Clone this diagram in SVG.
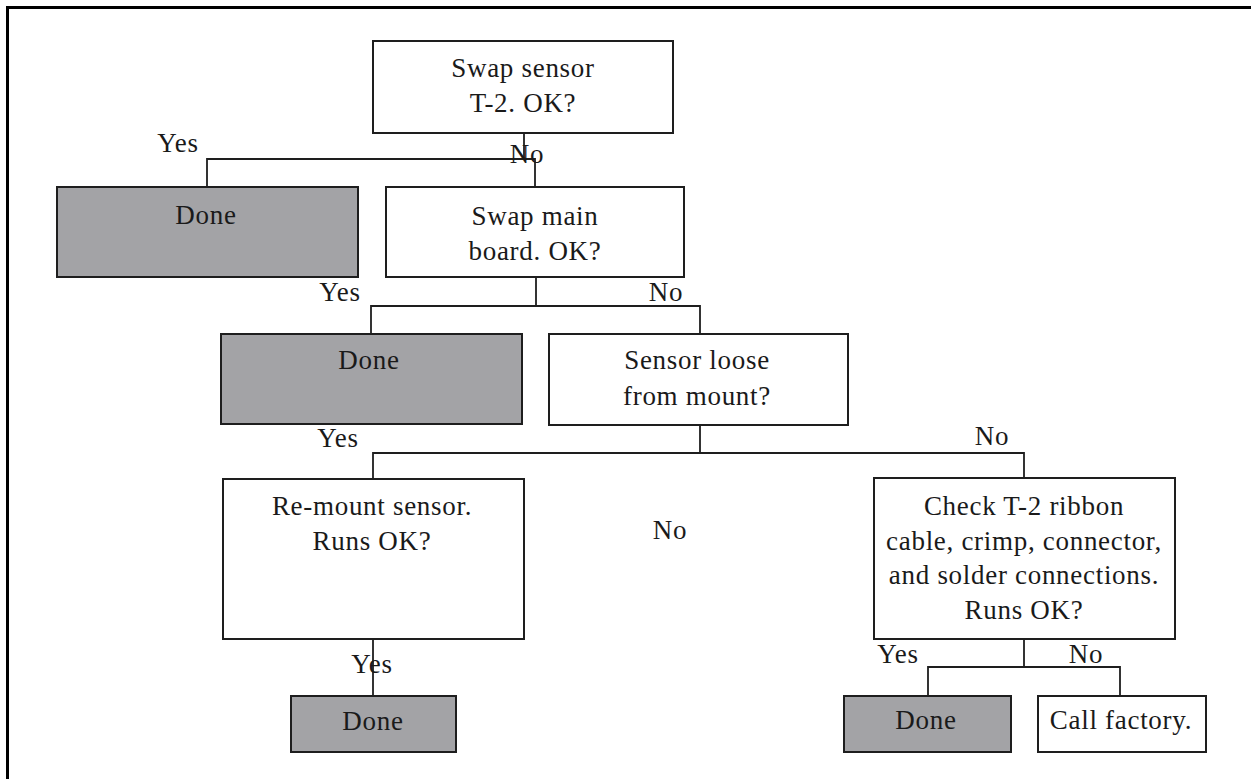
<svg xmlns="http://www.w3.org/2000/svg" width="1251" height="779" viewBox="0 0 1251 779">
<style>
.box{fill:#ffffff;stroke:#1e1e1e;stroke-width:2}
.done{fill:#a3a3a6;stroke:#1e1e1e;stroke-width:2}
.t{font-family:"Liberation Serif","Times New Roman",serif;font-size:27px;fill:#1a1a1a;text-anchor:middle;letter-spacing:0.7px}
.conn path{fill:none;stroke:#1e1e1e;stroke-width:1.8}
</style>
<rect x="0" y="0" width="1251" height="779" fill="#ffffff"/>
<path d="M7.5,779 V7.5 H1251" fill="none" stroke="#000000" stroke-width="3"/>
<g id="connectors" class="conn">
<path d="M524,133 V159"/>
<path d="M207,187 V159 H535 V187"/>
<path d="M536,277 V306"/>
<path d="M371,334 V306 H700 V334"/>
<path d="M700,425 V453"/>
<path d="M373,479 V453 H1024 V478"/>
<path d="M373,639 V696"/>
<path d="M1024,639 V667"/>
<path d="M928,696 V667 H1120 V696"/>
</g>
<g id="swap-sensor">
<rect class="box" x="373" y="41" width="300" height="92"/>
<text class="t" x="523" y="77">Swap sensor</text>
<text class="t" x="523" y="112">T-2. OK?</text>
</g>
<g id="done1">
<rect class="done" x="57" y="187" width="301" height="90"/>
<text class="t" x="206" y="224">Done</text>
</g>
<g id="swap-board">
<rect class="box" x="386" y="187" width="298" height="90"/>
<text class="t" x="535" y="225">Swap main</text>
<text class="t" x="535" y="260">board. OK?</text>
</g>
<g id="done2">
<rect class="done" x="221" y="334" width="301" height="90"/>
<text class="t" x="369" y="369">Done</text>
</g>
<g id="sensor-loose">
<rect class="box" x="549" y="334" width="299" height="91"/>
<text class="t" x="697" y="369">Sensor loose</text>
<text class="t" x="697" y="405">from mount?</text>
</g>
<g id="remount">
<rect class="box" x="223" y="479" width="301" height="160"/>
<text class="t" x="372" y="515">Re-mount sensor.</text>
<text class="t" x="372" y="550">Runs OK?</text>
</g>
<g id="check-ribbon">
<rect class="box" x="874" y="478" width="301" height="161"/>
<text class="t" x="1024" y="515">Check T-2 ribbon</text>
<text class="t" x="1024" y="550">cable, crimp, connector,</text>
<text class="t" x="1024" y="584">and solder connections.</text>
<text class="t" x="1024" y="619">Runs OK?</text>
</g>
<g id="done3">
<rect class="done" x="291" y="696" width="165" height="56"/>
<text class="t" x="373" y="730">Done</text>
</g>
<g id="done4">
<rect class="done" x="844" y="696" width="167" height="56"/>
<text class="t" x="926" y="729">Done</text>
</g>
<g id="call-factory">
<rect class="box" x="1038" y="696" width="168" height="56"/>
<text class="t" x="1121" y="729">Call factory.</text>
</g>
<g id="labels">
<text class="t" x="178" y="152">Yes</text>
<text class="t" x="527" y="163">No</text>
<text class="t" x="340" y="301">Yes</text>
<text class="t" x="666" y="301">No</text>
<text class="t" x="338" y="447">Yes</text>
<text class="t" x="992" y="445">No</text>
<text class="t" x="670" y="539">No</text>
<text class="t" x="372" y="673">Yes</text>
<text class="t" x="898" y="663">Yes</text>
<text class="t" x="1086" y="663">No</text>
</g>
</svg>
